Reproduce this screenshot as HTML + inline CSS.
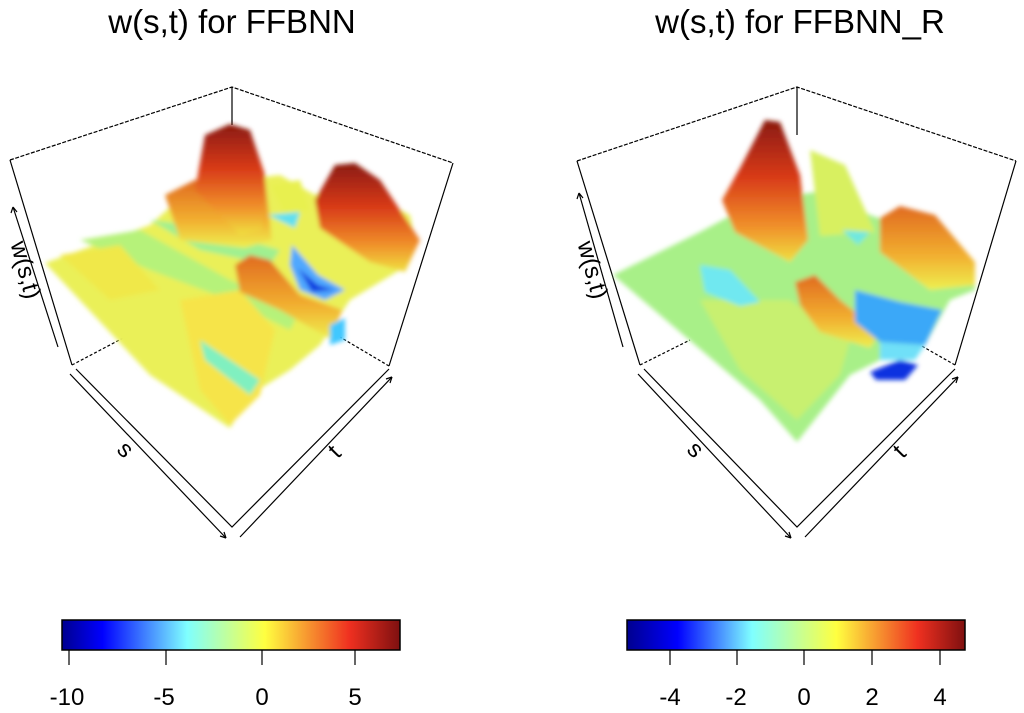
<!DOCTYPE html>
<html><head><meta charset="utf-8"><style>
html,body{margin:0;padding:0;background:#fff;}
svg{display:block;font-family:"Liberation Sans",sans-serif;}
</style></head><body>
<svg width="1024" height="713" viewBox="0 0 1024 713">
<defs>
<linearGradient id="jet" x1="0" x2="1" y1="0" y2="0">
<stop offset="0" stop-color="#00008f"/><stop offset="0.12" stop-color="#0000ff"/>
<stop offset="0.37" stop-color="#7fffff"/><stop offset="0.6" stop-color="#ffff40"/>
<stop offset="0.85" stop-color="#ef3020"/><stop offset="1" stop-color="#7f1010"/>
</linearGradient>
<linearGradient id="jet2" x1="0" x2="1" y1="0" y2="0">
<stop offset="0" stop-color="#00008f"/><stop offset="0.15" stop-color="#0000ff"/>
<stop offset="0.37" stop-color="#7fffff"/><stop offset="0.62" stop-color="#ffff40"/>
<stop offset="0.86" stop-color="#ef3020"/><stop offset="1" stop-color="#7f1010"/>
</linearGradient>
<linearGradient id="pk" x1="0" x2="0" y1="0" y2="1">
<stop offset="0" stop-color="#8a1a10"/><stop offset="0.4" stop-color="#d83a18"/>
<stop offset="0.75" stop-color="#f0902a"/><stop offset="1" stop-color="#f0e040"/>
</linearGradient>
<linearGradient id="or" x1="0" x2="0" y1="0" y2="1">
<stop offset="0" stop-color="#e06a20"/><stop offset="0.6" stop-color="#f2b030"/><stop offset="1" stop-color="#eef050"/>
</linearGradient>
<filter id="bl"><feGaussianBlur stdDeviation="2.5"/></filter>
</defs>
<g fill="#000" font-size="33" text-anchor="middle">
<text x="232" y="33">w(s,t) for FFBNN</text>
<text x="800" y="33">w(s,t) for FFBNN_R</text>
</g>

<g stroke="#000" stroke-width="1.2" fill="none">
<path d="M10,160 L232,87 L453,163" stroke-dasharray="4,1.5"/>
<path d="M232,87 L232,125 M10,160 L72,365 M453,163 L389,366"/>
<path d="M72,365 L125,337 M389,366 L340,337" stroke-dasharray="3,2"/>
</g>
<g filter="url(#bl)">
<polygon fill="#eaf058" points="45,263 150,225 195,185 280,175 315,195 345,180 410,215 415,240 400,270 350,300 320,345 290,370 250,395 230,428 150,375"/>
<polygon fill="#b6f27a" points="80,240 140,230 230,280 300,310 290,330 230,300 150,270"/>
<polygon fill="#a0f090" points="150,220 190,225 280,250 270,265 200,250"/>
<polygon fill="#f0e848" points="60,255 120,245 160,290 110,300"/>
<polygon fill="#f6e44a" points="180,300 240,290 275,330 260,395 230,425 200,390"/>
<polygon fill="#80f0c0" points="200,340 260,380 250,395 205,360"/>
<polygon fill="url(#or)" points="165,195 195,180 265,180 272,240 245,248 180,240"/>
<polygon fill="url(#pk)" points="195,190 205,135 230,124 250,130 265,175 262,230 240,235"/>
<polygon fill="url(#pk)" points="315,200 335,165 355,163 380,180 420,240 405,272 370,262 320,228"/>
<polygon fill="#e8f050" points="270,185 300,180 310,210 285,215"/>
<polygon fill="#60e0f0" points="268,215 300,212 295,228"/>
<polygon fill="url(#or)" points="235,265 250,255 270,260 300,295 342,310 332,340 280,310 240,292"/>
<polygon fill="#50a8ff" points="292,245 318,275 345,290 325,300 300,290 290,265"/>
<polygon fill="#1040e0" points="298,268 318,285 335,290 312,292"/>
<polygon fill="#40c8ff" points="330,325 345,318 345,340 330,345"/>
</g>
<g stroke="#000" stroke-width="1.2" fill="none">
<path d="M70,374 L226,538 M76,369 L232,527 L389,369 M240,537 L392,377"/>
<path d="M226,538 l-2,-6 M226,538 l-6,-2 M392,377 l-6,2 M392,377 l-2,6"/>
<path d="M58,347 L13,207 M13,207 l-2,6 M13,207 l4,5"/>
</g>
<g font-size="24" fill="#000" text-anchor="middle">
<text transform="translate(120,455) rotate(45)">s</text>
<text transform="translate(340,457) rotate(-45)">t</text>
<text transform="translate(18,272) rotate(75)">w(s,t)</text>
</g>

<g stroke="#000" stroke-width="1.2" fill="none">
<path d="M577,161 L797,87 L1016,161" stroke-dasharray="4,1.5"/>
<path d="M797,87 L797,135 M577,161 L640,365 M1016,161 L955,365"/>
<path d="M640,365 L690,340 M955,365 L920,345" stroke-dasharray="3,2"/>
</g>
<g filter="url(#bl)">
<polygon fill="#a8f088" points="613,275 700,232 760,200 830,190 870,215 900,225 975,265 975,290 950,300 925,345 880,360 850,375 797,442 760,400"/>
<polygon fill="#c8f070" points="700,300 790,300 850,340 840,375 797,420 740,370"/>
<polygon fill="#d8f060" points="810,150 845,165 875,232 820,236"/>
<polygon fill="url(#pk)" points="740,168 765,120 780,122 800,175 808,240 790,262 735,232 722,200"/>
<polygon fill="url(#or)" points="880,218 900,206 935,215 975,262 975,285 930,290 880,252"/>
<polygon fill="#70e8e0" points="842,230 870,232 858,245"/>
<polygon fill="url(#or)" points="795,282 815,275 840,300 880,332 870,348 820,332 800,305"/>
<polygon fill="#3aa8f8" points="855,290 900,302 942,310 925,345 880,342 855,322"/>
<polygon fill="#70e0f8" points="880,342 925,345 915,360 880,360"/>
<polygon fill="#0a30e0" points="870,372 900,360 918,365 905,380 876,380"/>
<polygon fill="#70e8f0" points="700,265 730,270 760,302 740,306 705,292"/>
</g>
<g stroke="#000" stroke-width="1.2" fill="none">
<path d="M638,374 L791,538 M644,369 L797,527 L955,369 M805,537 L958,377"/>
<path d="M791,538 l-2,-6 M791,538 l-6,-2 M958,377 l-6,2 M958,377 l-2,6"/>
<path d="M623,347 L579,193 M579,193 l-2,6 M579,193 l4,5"/>
</g>
<g font-size="24" fill="#000" text-anchor="middle">
<text transform="translate(690,455) rotate(45)">s</text>
<text transform="translate(905,457) rotate(-45)">t</text>
<text transform="translate(585,272) rotate(75)">w(s,t)</text>
</g>

<rect x="62" y="620" width="338" height="30" fill="url(#jet)" stroke="#000" stroke-width="1.5"/>
<rect x="627" y="620" width="338" height="30" fill="url(#jet2)" stroke="#000" stroke-width="1.5"/>
<g stroke="#000" stroke-width="1.2">
<path d="M69,650 v15 M166,650 v15 M262,650 v15 M355,650 v15"/>
<path d="M670,650 v15 M737,650 v15 M804,650 v15 M872,650 v15 M940,650 v15"/>
</g>
<g font-size="24" fill="#000" text-anchor="middle">
<text x="67" y="705">-10</text><text x="164" y="705">-5</text><text x="262" y="705">0</text><text x="355" y="705">5</text>
<text x="670" y="705">-4</text><text x="736" y="705">-2</text><text x="804" y="705">0</text><text x="872" y="705">2</text><text x="940" y="705">4</text>
</g>
</svg>
</body></html>
